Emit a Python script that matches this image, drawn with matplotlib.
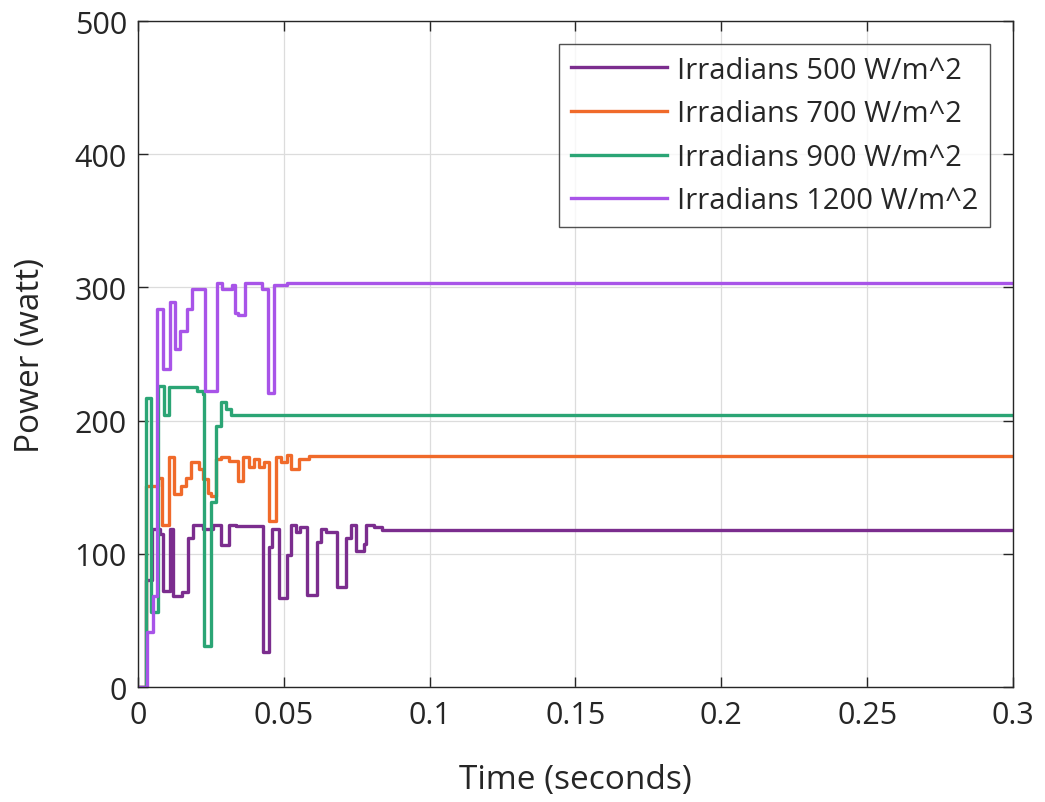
import matplotlib.pyplot as plt

# step-wise power output of the PV model for four irradiance levels
T_END = 0.3

t_500 = [0, 0.0027, 0.0048, 0.0075, 0.0086, 0.0110, 0.0120, 0.0150, 0.0172, 0.0190,
         0.0224, 0.0257, 0.0285, 0.0312, 0.0336, 0.0428, 0.0449, 0.0460, 0.0483,
         0.0512, 0.0524, 0.0541, 0.0555, 0.0580, 0.0615, 0.0626, 0.0644, 0.0683,
         0.0712, 0.0729, 0.0746, 0.0775, 0.0782, 0.0809, 0.0838]
p_500 = [0, 80, 119, 115, 72, 119, 68, 71, 112, 121.6,
         119, 122, 106.6, 122, 121, 26, 105, 119, 67,
         99, 122, 116, 120, 69, 109, 119, 116, 75,
         112, 122, 102, 107, 122, 120, 118]

t_700 = [0, 0.0027, 0.0068, 0.0082, 0.0107, 0.0124, 0.0147, 0.0165, 0.0182, 0.0209,
         0.0223, 0.0240, 0.0250, 0.0267, 0.0285, 0.0312, 0.0342, 0.0359, 0.0382,
         0.0399, 0.0415, 0.0432, 0.0449, 0.0472, 0.0489, 0.0512, 0.0524, 0.0552,
         0.0586]
p_700 = [0, 151, 157, 122, 173, 145, 151, 157, 169, 164,
         156, 146, 143.6, 171, 173, 170, 155, 173, 165,
         171, 165, 169, 125, 172.5, 169, 174, 164, 171,
         173.4]

t_900 = [0, 0.0027, 0.0045, 0.0068, 0.0090, 0.0107, 0.0202, 0.0223, 0.0227, 0.0250,
         0.0267, 0.0285, 0.0302, 0.0319]
p_900 = [0, 217, 56, 226, 204, 225, 222, 220, 31, 139,
         196, 214, 209, 204.5]

t_1200 = [0, 0.0031, 0.0051, 0.0064, 0.0085, 0.0110, 0.0127, 0.0144, 0.0168, 0.0185,
          0.0230, 0.0271, 0.0288, 0.0322, 0.0333, 0.0343, 0.0367, 0.0425, 0.0446,
          0.0466, 0.0511]
p_1200 = [0, 41, 68, 284, 239, 289, 254, 267, 284, 299,
          222, 303, 299, 302, 281, 279, 303, 299, 221,
          302, 303]

labels = ["Irradians 500 W/m^2", "Irradians 700 W/m^2",
          "Irradians 900 W/m^2", "Irradians 1200 W/m^2"]
colors = ["#7B2D8E", "#F06A2A", "#2BA575", "#A854E8"]

series = [(t_500, p_500), (t_700, p_700), (t_900, p_900), (t_1200, p_1200)]

plt.rcParams["font.family"] = ["Open Sans", "DejaVu Sans"]

fig = plt.figure(figsize=(10.45, 8.03), dpi=100)
ax = fig.add_axes([0.132, 0.1432, 0.8374, 0.8294])

for (t, p), lab, c in zip(series, labels, colors):
    # hold the last value out to the end of the simulation
    ax.step(list(t) + [T_END], list(p) + [p[-1]], where="post",
            color=c, lw=2.4, label=lab)

ax.set_xlim(0, T_END)
ax.set_ylim(0, 500)
ax.set_xticks([0, 0.05, 0.1, 0.15, 0.2, 0.25, 0.3])
ax.set_xticklabels(["0", "0.05", "0.1", "0.15", "0.2", "0.25", "0.3"])
ax.set_yticks([0, 100, 200, 300, 400, 500])
ax.grid(True, color="#DCDCDC", lw=0.9)
ax.set_axisbelow(True)
ax.tick_params(direction="in", top=True, right=True, length=7, width=1.0,
               labelsize=22, colors="#262626")
ax.tick_params(axis="x", pad=9)
ax.tick_params(axis="y", pad=8)
for s in ax.spines.values():
    s.set_color("#262626")
    s.set_linewidth(1.0)

ax.set_xlabel("Time (seconds)", fontsize=24, color="#262626", labelpad=24)
ax.set_ylabel("Power (watt)", fontsize=24, color="#262626", labelpad=20)

leg = ax.legend(loc="upper right", bbox_to_anchor=(0.9737, 0.9655),
                borderaxespad=0, fontsize=21,
                frameon=True, fancybox=False, edgecolor="#262626",
                handlelength=3.3, handletextpad=0.35, borderpad=0.4,
                labelspacing=0.5)
leg.get_frame().set_linewidth(1.0)
for txt in leg.get_texts():
    txt.set_color("#262626")

fig.savefig("out.png", dpi=100)
